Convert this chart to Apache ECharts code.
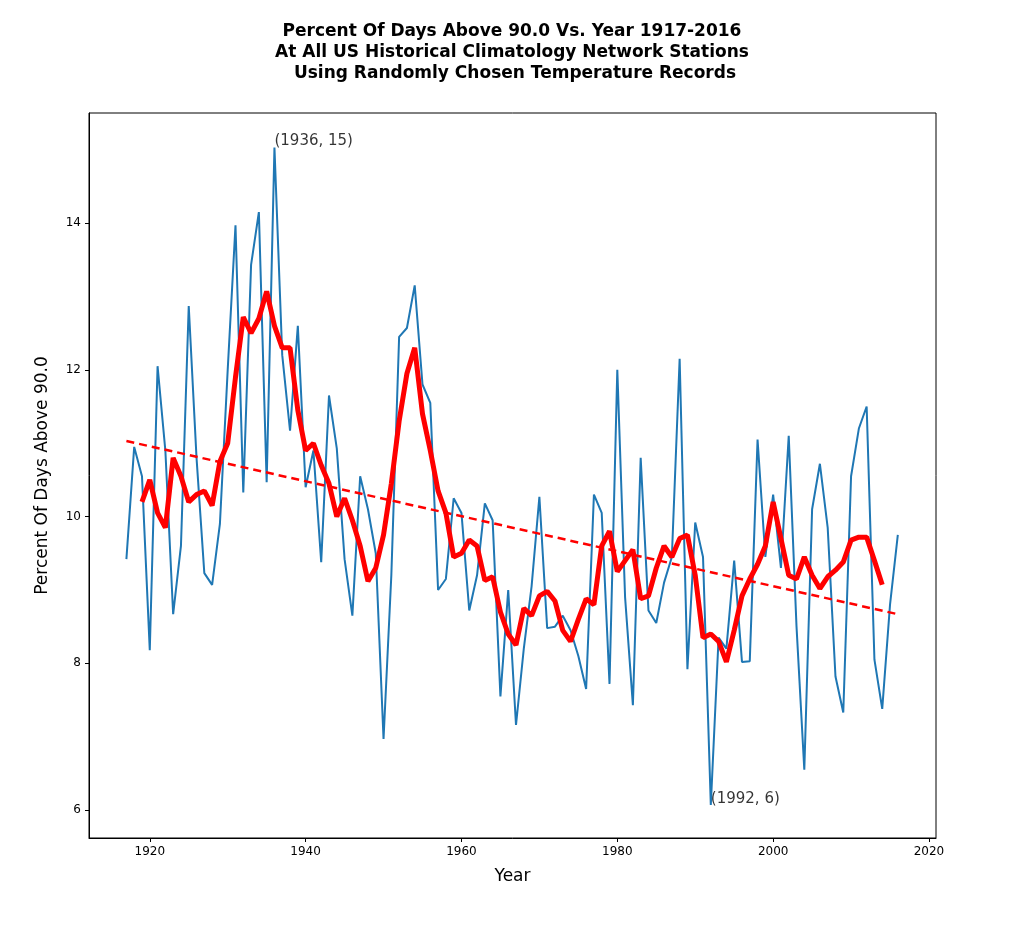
<!DOCTYPE html>
<html>
<head>
<meta charset="UTF-8" />
<title>Percent Of Days Above 90.0</title>
<script src="https://cdn.jsdelivr.net/npm/echarts@6/dist/echarts.min.js"></script>
<style>
  html, body { margin: 0; padding: 0; background: #fff; }
  #chart { width: 1024px; height: 951px; }
</style>
</head>
<body>
<div id="chart"></div>
<script>
  // yearly percent of days above 90F, 1917-2016
  const years = [];
  for (let y = 1917; y <= 2016; y++) years.push(y);
  const pctDays = [
    9.42, 10.95, 10.55, 8.18, 12.05, 10.9, 8.67, 9.6, 12.87, 10.8,
    9.23, 9.07, 9.9, 12.0, 13.97, 10.33, 13.43, 14.15, 10.47, 15.03,
    12.2, 11.17, 12.6, 10.4, 10.9, 9.38, 11.65, 10.93, 9.42, 8.65,
    10.55, 10.1, 9.5, 6.97, 9.2, 12.45, 12.57, 13.15, 11.8, 11.55,
    9.0, 9.15, 10.25, 10.05, 8.72, 9.2, 10.18, 9.95, 7.55, 9.0,
    7.16, 8.2, 9.05, 10.27, 8.48, 8.5, 8.65, 8.45, 8.1, 7.65,
    10.3, 10.05, 7.72, 12.0, 8.9, 7.43, 10.8, 8.72, 8.55, 9.1,
    9.45, 12.15, 7.92, 9.92, 9.45, 6.07, 8.35, 8.2, 9.4, 8.02,
    8.03, 11.05, 9.45, 10.3, 9.3, 11.1, 8.5, 6.55, 10.1, 10.72,
    9.85, 7.82, 7.33, 10.55, 11.2, 11.5, 8.05, 7.38, 8.8, 9.75
  ];
  // smoothed curve, 1919-2014
  const smoothStart = 1919;
  const smoothVals = [
    10.2, 10.5, 10.05, 9.85, 10.8, 10.55, 10.2, 10.3, 10.35, 10.15,
    10.75, 11.0, 11.9, 12.72, 12.5, 12.7, 13.07, 12.6, 12.3, 12.3,
    11.45, 10.9, 11.0, 10.7, 10.45, 10.0, 10.25, 9.95, 9.6, 9.12,
    9.3, 9.75, 10.45, 11.3, 11.95, 12.3, 11.4, 10.9, 10.35, 10.05,
    9.45, 9.5, 9.68, 9.6, 9.13, 9.18, 8.7, 8.4, 8.25, 8.75,
    8.65, 8.92, 8.98, 8.85, 8.45, 8.3, 8.6, 8.88, 8.8, 9.6,
    9.8, 9.25, 9.4, 9.55, 8.88, 8.92, 9.3, 9.6, 9.45, 9.7,
    9.75, 9.2, 8.35, 8.4, 8.3, 8.02, 8.45, 8.92, 9.15, 9.35,
    9.6, 10.2, 9.7, 9.2, 9.15, 9.45, 9.2, 9.02, 9.18, 9.27,
    9.38, 9.68, 9.72, 9.72, 9.4, 9.07
  ];
  const trendYears = [1917, 2016];
  const trendVals = [11.03, 8.67];
  const xTicks = [1920, 1940, 1960, 1980, 2000, 2020];
  const yTicks = [6, 8, 10, 12, 14];
  const notes = [[1936, 15.03, '(1936, 15)'], [1992, 6.07, '(1992, 6)']];

  const font = 'DejaVu Sans';
  const chart = echarts.init(document.getElementById('chart'));
  chart.setOption({
    animation: false,
    title: {
      text: 'Percent Of Days Above 90.0 Vs. Year 1917-2016\nAt All US Historical Climatology Network Stations\n Using Randomly Chosen Temperature Records',
      left: 'center', top: 16,
      textStyle: { fontFamily: font, fontSize: 17, fontWeight: 'bold', color: '#000', lineHeight: 21 }
    },
    grid: { left: 89, right: 88, top: 113, bottom: 113, show: true, borderColor: '#000', borderWidth: 1 },
    xAxis: {
      type: 'value', min: 1912.2, max: 2020.9,
      name: 'Year', nameLocation: 'middle', nameGap: 30,
      nameTextStyle: { fontFamily: font, fontSize: 17, color: '#000' },
      splitLine: { show: false },
      axisLine: { show: true, onZero: false, lineStyle: { color: '#000' } },
      axisTick: { show: true, length: 4, customValues: xTicks, lineStyle: { color: '#000' } },
      axisLabel: { customValues: xTicks, formatter: v => String(v), fontFamily: font, fontSize: 12, color: '#000', margin: 8 }
    },
    yAxis: {
      type: 'value', min: 5.62, max: 15.5,
      name: 'Percent Of Days Above 90.0', nameLocation: 'middle', nameGap: 38,
      nameTextStyle: { fontFamily: font, fontSize: 17, color: '#000' },
      splitLine: { show: false },
      axisLine: { show: true, lineStyle: { color: '#000' } },
      axisTick: { show: true, length: 4, customValues: yTicks, lineStyle: { color: '#000' } },
      axisLabel: { customValues: yTicks, fontFamily: font, fontSize: 12, color: '#000', margin: 8 }
    },
    series: [
      {
        type: 'line', data: years.map((y, i) => [y, pctDays[i]]),
        symbol: 'none', lineStyle: { color: '#1f77b4', width: 2 }
      },
      {
        type: 'line', data: smoothVals.map((v, i) => [smoothStart + i, v]),
        symbol: 'none', lineStyle: { color: '#ff0000', width: 5 }
      },
      {
        type: 'line', data: trendYears.map((y, i) => [y, trendVals[i]]),
        symbol: 'none', lineStyle: { color: '#ff0000', width: 2.5, type: [8, 5] }
      },
      {
        type: 'scatter', symbolSize: 0.01, itemStyle: { color: '#000' },
        data: notes.map(n => ({ value: [n[0], n[1]], label: { formatter: n[2] } })),
        label: { show: true, position: 'right', distance: 0, offset: [0, -6], fontFamily: font, fontSize: 15, color: '#000', textBorderWidth: 0 }
      }
    ]
  });
</script>
</body>
</html>
